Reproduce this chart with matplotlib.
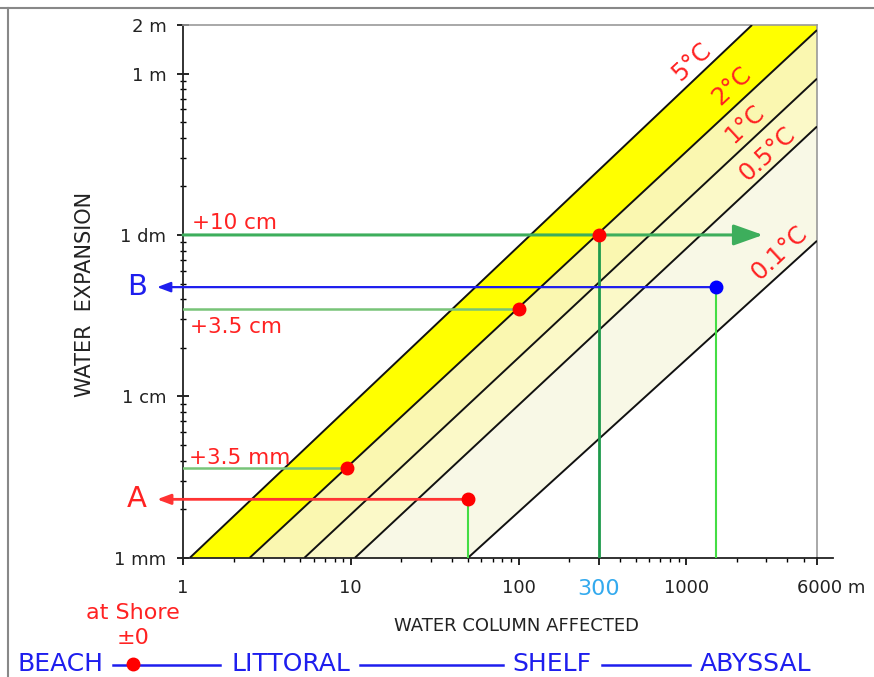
import numpy as np
import matplotlib
matplotlib.use('Agg')
import matplotlib.pyplot as plt
from matplotlib.lines import Line2D
from matplotlib.ticker import LogLocator, NullFormatter, FixedLocator, FixedFormatter
from matplotlib.transforms import ScaledTranslation

plt.rcParams['font.family'] = ['DejaVu Sans']

W, H = 874, 677

# ---------------- data ----------------
temp_labels = ['5°C', '2°C', '1°C', '0.5°C', '0.1°C']
depth_at_1mm = [1.1, 2.5, 5.3, 10.6, 50]          # m of water column where line crosses 1 mm
end_depth = [2460, 6000, 6000, 6000, 6000]         # m, where line leaves the chart
end_expansion = [2.0, 1.86, 0.93, 0.47, 0.092]     # m, expansion at that point
band_colors = ['#FFFF00', '#FAF7B0', '#FBF9C8', '#F8F8E6']

x_ticks = [1, 10, 100, 300, 1000, 6000]
x_tick_labels = ['1', '10', '100', '300', '1000', '6000 m']
y_ticks = [0.001, 0.01, 0.1, 1, 2]
y_tick_labels = ['1 mm', '1 cm', '1 dm', '1 m', '2 m']

rise10_pt = (300, 0.1)
rise35cm_pt = (100, 0.035)
rise35mm_pt = (9.5, 0.0036)
point_A = (50, 0.0023)
point_B = (1500, 0.0475)
arrow10_tip = 2860
side_arrow_tip = 0.70

zones = ['BEACH', 'LITTORAL', 'SHELF', 'ABYSSAL']

# label anchor positions for temperature labels (data coords)
temp_label_pos = [(1080, 1.18), (1870, 0.84), (2235, 0.49), (3020, 0.317), (3565, 0.0773)]

RED = '#FF2222'
BLUE = '#1E1EEE'

# ---------------- figure ----------------
fig = plt.figure(figsize=(W / 100, H / 100), dpi=100)
ax = fig.add_axes([183 / W, 1 - 557.7 / H, 634 / W, 532.7 / H])
ax.set_xscale('log')
ax.set_yscale('log')
xmin, xmax = 1, 6000
ymin, ymax = 0.001, 2
ax.set_xlim(xmin, xmax)
ax.set_ylim(ymin, ymax)

# bands
for i in range(len(band_colors)):
    xs = [depth_at_1mm[i], end_depth[i]]
    ys = [ymin, end_expansion[i]]
    if end_depth[i] < xmax:
        xs.append(xmax)
        ys.append(ymax)
    xs += [end_depth[i + 1], depth_at_1mm[i + 1]]
    ys += [end_expansion[i + 1], ymin]
    ax.fill(xs, ys, color=band_colors[i], lw=0, zorder=1)

# temperature lines
for i in range(len(temp_labels)):
    ax.plot([depth_at_1mm[i], end_depth[i]], [ymin, end_expansion[i]],
            color='#111111', lw=1.4, zorder=3, solid_capstyle='butt')
    tx, ty = temp_label_pos[i]
    ax.text(tx, ty, temp_labels[i], rotation=43, rotation_mode='anchor',
            ha='center', va='center', color=RED, fontsize=17.5, zorder=6)

# +10 cm line with arrow
ax.annotate('', xy=(arrow10_tip, rise10_pt[1]), xytext=(xmin, rise10_pt[1]),
            arrowprops=dict(arrowstyle='-|>,head_length=0.9,head_width=0.32',
                            mutation_scale=20, color='#3DAE5C', lw=2.2,
                            shrinkA=0, shrinkB=0), zorder=4)
ax.plot([rise10_pt[0], rise10_pt[0]], [ymin, rise10_pt[1]], color='#1E9A4C', lw=2, zorder=4)
ax.annotate('+10 cm', xy=(xmin, rise10_pt[1]), xytext=(6.5, 4), textcoords='offset points',
            ha='left', va='baseline', color=RED, fontsize=15.5, zorder=6)

# +3.5 cm
ax.plot([xmin, rise35cm_pt[0]], [rise35cm_pt[1]] * 2, color='#78C478', lw=1.8, zorder=4)
ax.annotate('+3.5 cm', xy=(xmin, rise35cm_pt[1]), xytext=(5, -17.5), textcoords='offset points',
            ha='left', va='baseline', color=RED, fontsize=15.5, zorder=6)

# +3.5 mm
ax.plot([xmin, rise35mm_pt[0]], [rise35mm_pt[1]] * 2, color='#78C478', lw=1.8, zorder=4)
ax.annotate('+3.5 mm', xy=(xmin, rise35mm_pt[1]), xytext=(4, 2.5), textcoords='offset points',
            ha='left', va='baseline', color=RED, fontsize=15.5, zorder=6)

# A
ax.plot([point_A[0], point_A[0]], [ymin, point_A[1]], color='#44DD44', lw=1.5, zorder=4)
ax.annotate('', xy=(side_arrow_tip, point_A[1]), xytext=point_A,
            arrowprops=dict(arrowstyle='-|>,head_length=0.8,head_width=0.3',
                            mutation_scale=10, color='#FF3333', lw=2,
                            shrinkA=0, shrinkB=0), annotation_clip=False, zorder=4)
ax.annotate('A', xy=(xmin, point_A[1]), xytext=(-33, 0), textcoords='offset points',
            ha='center', va='center', color=RED, fontsize=21, annotation_clip=False)

# B
ax.plot([point_B[0], point_B[0]], [ymin, point_B[1]], color='#44DD44', lw=1.5, zorder=4)
ax.annotate('', xy=(side_arrow_tip, point_B[1]), xytext=point_B,
            arrowprops=dict(arrowstyle='-|>,head_length=0.8,head_width=0.3',
                            mutation_scale=10, color=BLUE, lw=1.6,
                            shrinkA=0, shrinkB=0), annotation_clip=False, zorder=4)
ax.annotate('B', xy=(xmin, point_B[1]), xytext=(-33, 0), textcoords='offset points',
            ha='center', va='center', color=BLUE, fontsize=21, annotation_clip=False)

# dots
for p in [rise10_pt, rise35cm_pt, rise35mm_pt, point_A]:
    ax.plot(*p, 'o', color='#FF0000', ms=9, zorder=7)
ax.plot(*point_B, 'o', color='#0000FF', ms=9, zorder=7)

# ---------------- axes styling ----------------
ax.xaxis.set_major_locator(FixedLocator(x_ticks))
ax.xaxis.set_major_formatter(FixedFormatter(x_tick_labels))
ax.xaxis.set_minor_locator(LogLocator(base=10, subs=np.arange(2, 10), numticks=30))
ax.xaxis.set_minor_formatter(NullFormatter())
ax.yaxis.set_major_locator(FixedLocator(y_ticks))
ax.yaxis.set_major_formatter(FixedFormatter(y_tick_labels))
ax.yaxis.set_minor_locator(LogLocator(base=10, subs=np.arange(2, 10), numticks=30))
ax.yaxis.set_minor_formatter(NullFormatter())

ax.tick_params(axis='x', which='major', direction='out', length=5, width=1.2, pad=10,
               labelsize=13, labelcolor='#222222')
ax.tick_params(axis='x', which='minor', direction='out', length=3, width=1)
ax.tick_params(axis='y', which='major', direction='inout', length=8, width=1.2, pad=8,
               labelsize=13, labelcolor='#222222')
ax.tick_params(axis='y', which='minor', direction='inout', length=4, width=1)

for lab in ax.get_xticklabels():
    if lab.get_text() == '300':
        lab.set_color('#33AAEE')
        lab.set_fontsize(16)
    if lab.get_text() == '6000 m':
        lab.set_horizontalalignment('left')
        lab.set_transform(lab.get_transform() + ScaledTranslation(-0.2, 0, fig.dpi_scale_trans))

ax.spines['left'].set_color('#222222')
ax.spines['left'].set_linewidth(1.3)
ax.spines['bottom'].set_color('#222222')
ax.spines['bottom'].set_linewidth(1.3)
for s in ['top', 'right']:
    ax.spines[s].set_color('#999999')
    ax.spines[s].set_linewidth(1.2)

# bottom axis extension past the right spine
fig.add_artist(Line2D([817 / W, 833 / W], [1 - 557.7 / H] * 2, color='#222222', lw=1.3))

fig.text(85 / W, 1 - 294 / H, 'WATER  EXPANSION', rotation=90, ha='center', va='center',
         fontsize=15, color='#222222')
fig.text(517 / W, 1 - 626 / H, 'WATER COLUMN AFFECTED', ha='center', va='center',
         fontsize=13, color='#222222')

# frame lines of the picture
fig.add_artist(Line2D([0, 1], [1 - 8 / H] * 2, color='#888888', lw=1.5))
fig.add_artist(Line2D([8 / W] * 2, [0, 1 - 8 / H], color='#888888', lw=1.5))

# zones row
zy = 1 - 664 / H
fig.text(133 / W, 1 - 613 / H, 'at Shore', ha='center', va='center', fontsize=16, color=RED)
fig.text(133 / W, 1 - 638 / H, '±0', ha='center', va='center', fontsize=16, color=RED)
zone_x = [17, 232, 512, 700]
for name, zx in zip(zones, zone_x):
    fig.text(zx / W, zy, name, ha='left', va='center', fontsize=18, color=BLUE)
for x0, x1 in [(113, 220), (360, 503), (602, 690)]:
    fig.add_artist(Line2D([x0 / W, x1 / W], [1 - 665 / H] * 2, color=BLUE, lw=1.8))
fig.add_artist(Line2D([133 / W], [1 - 664 / H], marker='o', color='#FF0000', ms=9))

fig.savefig('out.png', dpi=100)
